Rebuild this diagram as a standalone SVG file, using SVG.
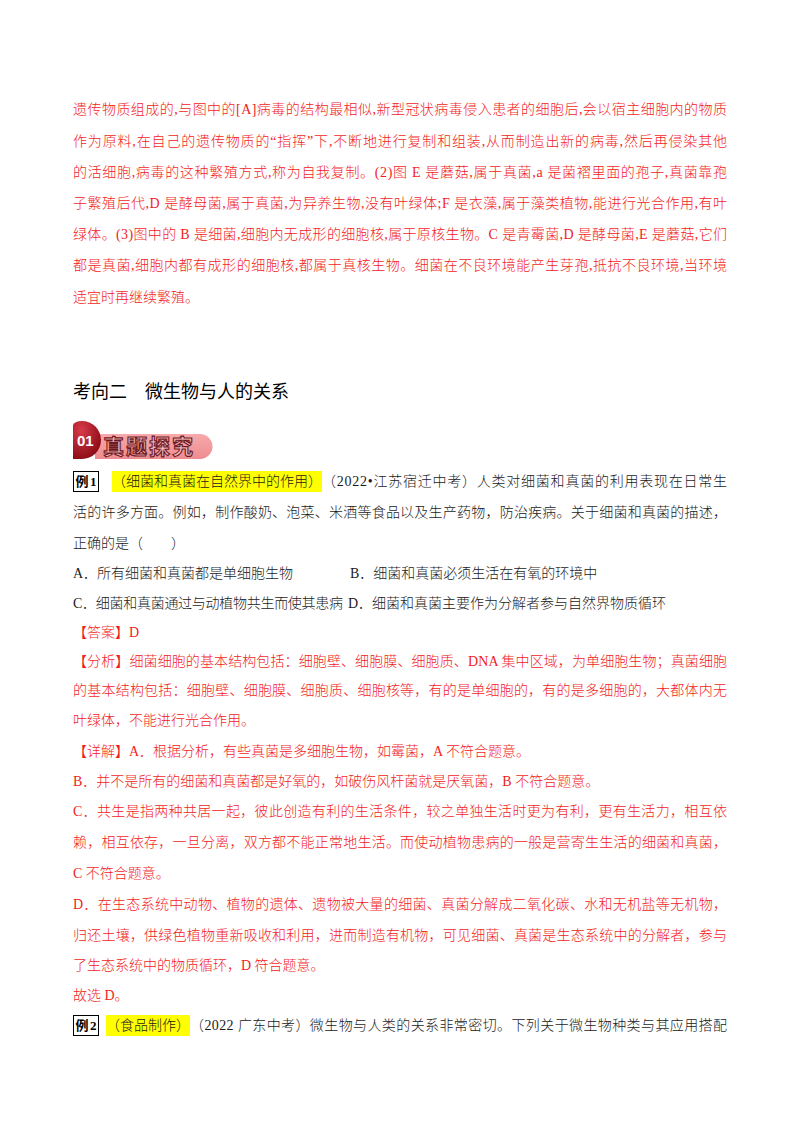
<svg xmlns="http://www.w3.org/2000/svg" width="800" height="1132" viewBox="0 0 800 1132">
<style>
.r{font-family:"Liberation Serif","Noto Sans CJK SC",serif;font-size:14px;fill:#f21c1c;font-weight:300}
.k{font-family:"Liberation Serif","Noto Sans CJK SC",serif;font-size:14px;fill:#1a1a1a;font-weight:300}
.h{font-family:"Noto Sans CJK SC",sans-serif;font-size:18px;fill:#000}
.bx{fill:#fff;stroke:#000;stroke-width:1}
.bt{font-family:"Liberation Serif","Noto Sans CJK SC",serif;font-size:13px;font-weight:bold;fill:#000}
.hl{fill:#ffff00}
</style>
<defs>
<radialGradient id="rg" cx="0.3" cy="0.25" r="0.8">
<stop offset="0" stop-color="#d83a48"/>
<stop offset="1" stop-color="#8a0b16"/>
</radialGradient>
<linearGradient id="pg" x1="0" y1="0" x2="0" y2="1">
<stop offset="0" stop-color="#f7a9ab"/>
<stop offset="1" stop-color="#ee8c90"/>
</linearGradient>
</defs>
<rect x="0" y="0" width="800" height="1132" fill="#fff"/>

<g id="block1">
<text class="r" x="73" y="114" textLength="654" lengthAdjust="spacing">遗传物质组成的,与图中的[A]病毒的结构最相似,新型冠状病毒侵入患者的细胞后,会以宿主细胞内的物质</text>
<text class="r" x="73" y="146" textLength="654" lengthAdjust="spacing">作为原料,在自己的遗传物质的“指挥”下,不断地进行复制和组装,从而制造出新的病毒,然后再侵染其他</text>
<text class="r" x="73" y="177" textLength="654" lengthAdjust="spacing">的活细胞,病毒的这种繁殖方式,称为自我复制。(2)图 E 是蘑菇,属于真菌,a 是菌褶里面的孢子,真菌靠孢</text>
<text class="r" x="73" y="208" textLength="654" lengthAdjust="spacing">子繁殖后代,D 是酵母菌,属于真菌,为异养生物,没有叶绿体;F 是衣藻,属于藻类植物,能进行光合作用,有叶</text>
<text class="r" x="73" y="239" textLength="654" lengthAdjust="spacing">绿体。(3)图中的 B 是细菌,细胞内无成形的细胞核,属于原核生物。C 是青霉菌,D 是酵母菌,E 是蘑菇,它们</text>
<text class="r" x="73" y="270" textLength="654" lengthAdjust="spacing">都是真菌,细胞内都有成形的细胞核,都属于真核生物。细菌在不良环境能产生芽孢,抵抗不良环境,当环境</text>
<text class="r" x="73" y="302">适宜时再继续繁殖。</text>
</g>

<g id="heading">
<text class="h" x="73" y="398">考向二　微生物与人的关系</text>
</g>

<g id="banner">
<path d="M95,434 L200,434 A12.5,12.5 0 0 1 200,459 L95,459 Z" fill="url(#pg)"/>
<path d="M73,425 Q75,421 82,421 A19,19 0 0 1 82,459 L73,459 Z" fill="url(#rg)"/>
<text x="77" y="446" font-family="Liberation Sans, sans-serif" font-size="15" font-weight="bold" fill="#fff">01</text>
<text x="103" y="454" font-family="Noto Sans CJK SC, sans-serif" font-size="21" font-weight="bold" fill="#f6b3b5" stroke="#6e1a24" stroke-width="1.1" letter-spacing="2">真题探究</text>
</g>

<g id="example1">
<rect class="bx" x="73.5" y="471.5" width="25" height="20"/>
<text class="bt" x="75.5" y="486" textLength="21" lengthAdjust="spacing">例1</text>
<rect class="hl" x="112" y="471" width="210" height="21"/>
<text class="k" x="112" y="486">（细菌和真菌在自然界中的作用）</text>
<text class="k" x="322" y="486" textLength="405" lengthAdjust="spacing">（2022•江苏宿迁中考）人类对细菌和真菌的利用表现在日常生</text>
<text class="k" x="73" y="517" textLength="654" lengthAdjust="spacing">活的许多方面。例如，制作酸奶、泡菜、米酒等食品以及生产药物，防治疾病。关于细菌和真菌的描述，</text>
<text class="k" x="73" y="548">正确的是（　　）</text>
<text class="k" x="73" y="578">A．所有细菌和真菌都是单细胞生物</text>
<text class="k" x="350" y="578">B．细菌和真菌必须生活在有氧的环境中</text>
<text class="k" x="73" y="608" textLength="270" lengthAdjust="spacing">C．细菌和真菌通过与动植物共生而使其患病</text>
<text class="k" x="348" y="608">D．细菌和真菌主要作为分解者参与自然界物质循环</text>
</g>

<g id="answer">
<text class="r" x="73" y="637">【答案】D</text>
<text class="r" x="73" y="666" textLength="654" lengthAdjust="spacing">【分析】细菌细胞的基本结构包括：细胞壁、细胞膜、细胞质、DNA 集中区域，为单细胞生物；真菌细胞</text>
<text class="r" x="73" y="695" textLength="654" lengthAdjust="spacing">的基本结构包括：细胞壁、细胞膜、细胞质、细胞核等，有的是单细胞的，有的是多细胞的，大都体内无</text>
<text class="r" x="73" y="725">叶绿体，不能进行光合作用。</text>
<text class="r" x="73" y="756">【详解】A．根据分析，有些真菌是多细胞生物，如霉菌，A 不符合题意。</text>
<text class="r" x="73" y="786">B．并不是所有的细菌和真菌都是好氧的，如破伤风杆菌就是厌氧菌，B 不符合题意。</text>
<text class="r" x="73" y="816" textLength="654" lengthAdjust="spacing">C．共生是指两种共居一起，彼此创造有利的生活条件，较之单独生活时更为有利，更有生活力，相互依</text>
<text class="r" x="73" y="847" textLength="654" lengthAdjust="spacing">赖，相互依存，一旦分离，双方都不能正常地生活。而使动植物患病的一般是营寄生生活的细菌和真菌，</text>
<text class="r" x="73" y="878">C 不符合题意。</text>
<text class="r" x="73" y="909" textLength="654" lengthAdjust="spacing">D．在生态系统中动物、植物的遗体、遗物被大量的细菌、真菌分解成二氧化碳、水和无机盐等无机物，</text>
<text class="r" x="73" y="940" textLength="654" lengthAdjust="spacing">归还土壤，供绿色植物重新吸收和利用，进而制造有机物，可见细菌、真菌是生态系统中的分解者，参与</text>
<text class="r" x="73" y="970">了生态系统中的物质循环，D 符合题意。</text>
<text class="r" x="73" y="1000">故选 D。</text>
</g>

<g id="example2">
<rect class="bx" x="73.5" y="1015.5" width="25" height="20"/>
<text class="bt" x="75.5" y="1030" textLength="21" lengthAdjust="spacing">例2</text>
<rect class="hl" x="106" y="1015" width="84" height="21"/>
<text class="k" x="106" y="1030">（食品制作）</text>
<text class="k" x="190" y="1030" textLength="537" lengthAdjust="spacing">（2022 广东中考）微生物与人类的关系非常密切。下列关于微生物种类与其应用搭配</text>
</g>
</svg>
